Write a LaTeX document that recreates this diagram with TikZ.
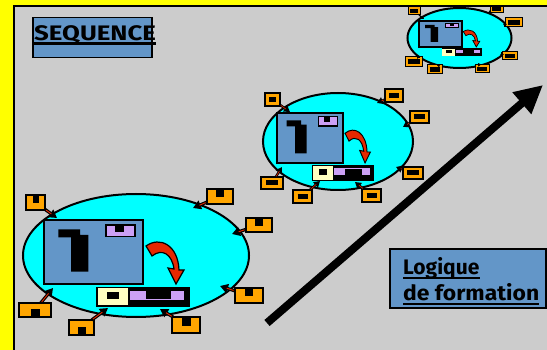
\documentclass[tikz,border=0pt]{standalone}
\usepackage{fontspec}
\usepackage{graphicx}
\newfontfamily\labfont{Fira Sans}
\usetikzlibrary{shapes.geometric,arrows.meta,calc}
\definecolor{bgray}{RGB}{204,204,204}
\definecolor{sblue}{RGB}{99,150,200}
\definecolor{scyan}{RGB}{0,255,255}
\definecolor{sorange}{RGB}{255,165,0}
\definecolor{slav}{RGB}{204,160,245}
\definecolor{syel}{RGB}{255,255,192}
\definecolor{sred}{RGB}{230,40,0}
\definecolor{syellow}{RGB}{255,255,0}
\newcommand\drawgroup[1]{%
 \draw[line width=#1, fill=sblue] (0,0) rectangle (99,64);
 \fill[black] (14.3,9.3) -- (36,9.3) -- (36,15) -- (44.3,15) -- (44.3,51.7) -- (27,51.7) -- (27,17.3) -- (14.3,17.3) -- cycle;
 \draw[line width=0.7*#1, fill=slav] (62,5) rectangle (91,16.7);
 \fill[black] (71,5) rectangle (80,11.7);
 \draw[line width=0.6*#1, fill=sred] (102,26) .. controls (116,16) and (134,25) .. (135,50) -- (140,50) -- (132,64) -- (124,48) -- (130,49) .. controls (128,34) and (118,28) .. (108,36) -- cycle;
 \fill[black] (52,67) rectangle (146,87);
 \fill[syel] (53.5,68.5) rectangle (84,85.5);
 \fill[black] (63,72) rectangle (75,79);
 \fill[slav] (86,71) rectangle (140,80);
 \fill[black] (102,71.5) rectangle (127,79.5);
}
\begin{document}
\begin{tikzpicture}[x=1pt,y=-1pt,
  ell/.style={ellipse, draw=black, line width=2pt, fill=scyan, inner sep=0pt},
  sat/.style={draw=black, line width=1.5pt, fill=sorange, inner sep=0pt, outer sep=0pt},
  msat/.style={sat, line width=1.3pt},
  tsat/.style={sat, line width=1pt},
  nup/.style 2 args={label={[fill=black,inner sep=0pt,outer sep=0pt,minimum width=#1,minimum height=#2,anchor=north]north:{}}},
  ndn/.style 2 args={label={[fill=black,inner sep=0pt,outer sep=0pt,minimum width=#1,minimum height=#2,anchor=south]south:{}}},
  conn/.style={line width=3.2pt, -{Triangle[length=8pt,width=9pt]}},
  connred/.style={sred, line width=0.9pt, shorten >=7pt, shorten <=1.5pt},
  mconn/.style={line width=2.4pt, -{Triangle[length=6pt,width=7pt]}},
  mconnred/.style={sred, line width=0.6pt, shorten >=5pt, shorten <=1pt},
  tconn/.style={line width=1.2pt, -{Triangle[length=3pt,width=3.5pt]}},
  bluebox/.style={draw=black, fill=sblue, inner sep=0pt},
  lab/.style={font=\labfont\bfseries\fontsize{21}{24}\selectfont, inner sep=0pt},
  ulin/.style={line width=2.5pt}
]
\useasboundingbox (0,0) rectangle (547,350);
\fill[syellow] (0,0) rectangle (547,350);
\draw[fill=bgray, line width=1.5pt] (14,6) rectangle (560,360);

% ---------- large ellipse ----------
\node[ell, minimum width=226pt, minimum height=123pt] (E1) at (136,255.5) {};
\begin{scope}[shift={(44,220)}]
 \drawgroup{2pt}
\end{scope}
\coordinate (t1) at (57,218);
\coordinate (t2) at (193,208);
\coordinate (t3) at (232,234);
\coordinate (t4) at (220,286);
\coordinate (t5) at (160,309);
\coordinate (t6) at (108,308);
\coordinate (t7) at (53,288);
\node[sat, minimum width=19pt, minimum height=15pt, nup={6pt}{8pt}] (b1) at (35.5,202.5) {};
\node[sat, minimum width=26pt, minimum height=15pt, nup={8pt}{8pt}] (b2) at (220,196.5) {};
\node[sat, minimum width=26pt, minimum height=14pt, nup={8pt}{8pt}] (b3) at (259,225) {};
\node[sat, minimum width=28pt, minimum height=15pt, nup={8pt}{8pt}] (b4) at (249,295.5) {};
\node[sat, minimum width=28pt, minimum height=16pt, nup={9pt}{9pt}] (b5) at (186,325) {};
\node[sat, minimum width=25pt, minimum height=15pt, ndn={8pt}{8pt}] (b6) at (81.5,327.5) {};
\node[sat, minimum width=32pt, minimum height=14pt, ndn={9pt}{8pt}] (b7) at (35,310) {};
\foreach \i in {1,...,7}{
  \draw[conn] (b\i) -- (t\i);
  \draw[connred] (b\i) -- (t\i);
}

% ---------- middle ellipse ----------
\node[ell, minimum width=150pt, minimum height=97pt] (E2) at (338,141.5) {};
\begin{scope}[shift={(277,113)}, xscale=0.667, yscale=0.78]
 \drawgroup{1.6pt}
\end{scope}
\coordinate (u1) at (290,112);
\coordinate (u2) at (377,103);
\coordinate (u3) at (403,127);
\coordinate (u4) at (396,167);
\coordinate (u5) at (355,182);
\coordinate (u6) at (320,181);
\coordinate (u7) at (282,167);
\node[msat, minimum width=15pt, minimum height=13pt] (m1) at (272.5,99.5) {\rule{7pt}{5pt}};
\node[msat, minimum width=18pt, minimum height=13pt] (m2) at (394,95.5) {\rule{10pt}{5pt}};
\node[msat, minimum width=19pt, minimum height=12pt] (m3) at (419.5,117) {\rule{11pt}{5pt}};
\node[msat, minimum width=20pt, minimum height=12pt] (m4) at (413,173) {\rule{12pt}{5pt}};
\node[msat, minimum width=19pt, minimum height=13pt] (m5) at (371.5,195.5) {\rule{10pt}{5pt}};
\node[msat, minimum width=19pt, minimum height=13pt] (m6) at (302.5,196.5) {\rule{10pt}{5pt}};
\node[msat, minimum width=22pt, minimum height=12pt] (m7) at (272,183) {\rule{12pt}{5pt}};
\foreach \i in {1,...,7}{
  \draw[mconn] (m\i) -- (u\i);
  \draw[mconnred] (m\i) -- (u\i);
}

% ---------- small ellipse ----------
\node[ell, minimum width=104pt, minimum height=60pt] (E3) at (459.5,38) {};
\begin{scope}[shift={(419,21)}, xscale=0.434, yscale=0.406]
 \drawgroup{1.2pt}
\end{scope}
\coordinate (v1) at (424,19);
\coordinate (v2) at (488,13);
\coordinate (v3) at (505,27);
\coordinate (v4) at (502,52);
\coordinate (v5) at (478,63);
\coordinate (v6) at (440,64);
\coordinate (v7) at (420,57);
\node[tsat, minimum width=12pt, minimum height=8pt] (s1) at (414,11) {\rule{8pt}{4pt}};
\node[tsat, minimum width=13pt, minimum height=8pt] (s2) at (496.5,9) {\rule{9pt}{4pt}};
\node[tsat, minimum width=17pt, minimum height=9pt] (s3) at (513.5,22.5) {\rule{12pt}{5pt}};
\node[tsat, minimum width=15pt, minimum height=8pt] (s4) at (509.5,56) {\rule{10pt}{4pt}};
\node[tsat, minimum width=14pt, minimum height=8pt] (s5) at (482,69) {\rule{10pt}{4pt}};
\node[tsat, minimum width=15pt, minimum height=9pt] (s6) at (434.5,69.5) {\rule{10pt}{5pt}};
\node[tsat, minimum width=17pt, minimum height=10pt] (s7) at (413.5,62) {\rule{12pt}{5pt}};
\foreach \i in {1,...,7}{
  \draw[tconn] (s\i) -- (v\i);
}
\fill[syellow] (14,0) rectangle (547,5.2);
\draw[line width=1.5pt] (14,6) -- (547,6);

% ---------- big arrow ----------
\coordinate (a0) at (267,323);
\coordinate (a1) at (543,85);
\draw[line width=8pt, -{Triangle[length=28pt,width=27pt]}] (a0) -- (a1);

% ---------- text boxes ----------
\node[bluebox, line width=1.5pt, minimum width=119pt, minimum height=40pt, anchor=north west] (seqbox) at (32,17) {};
\node[lab, anchor=base west] (seqt) at (34,41) {\scalebox{1.23}[1]{SEQUENCE}};
\draw[ulin] ([yshift=-2.5pt]seqt.base west) -- ([yshift=-2.5pt]seqt.base east);

\node[bluebox, line width=2pt, minimum width=156pt, minimum height=59pt, anchor=north west] (logbox) at (389,248) {};
\node[lab, anchor=base west] (l1) at (403,275) {Logique};
\node[lab, anchor=base west] (l2) at (403,301) {\scalebox{1.09}[1]{de formation}};
\draw[ulin] ([yshift=-3pt]l1.base west) -- ([yshift=-3pt]l1.base east);
\draw[ulin] ([yshift=-3pt]l2.base west) -- ([yshift=-3pt]l2.base east);
\end{tikzpicture}
\end{document}
